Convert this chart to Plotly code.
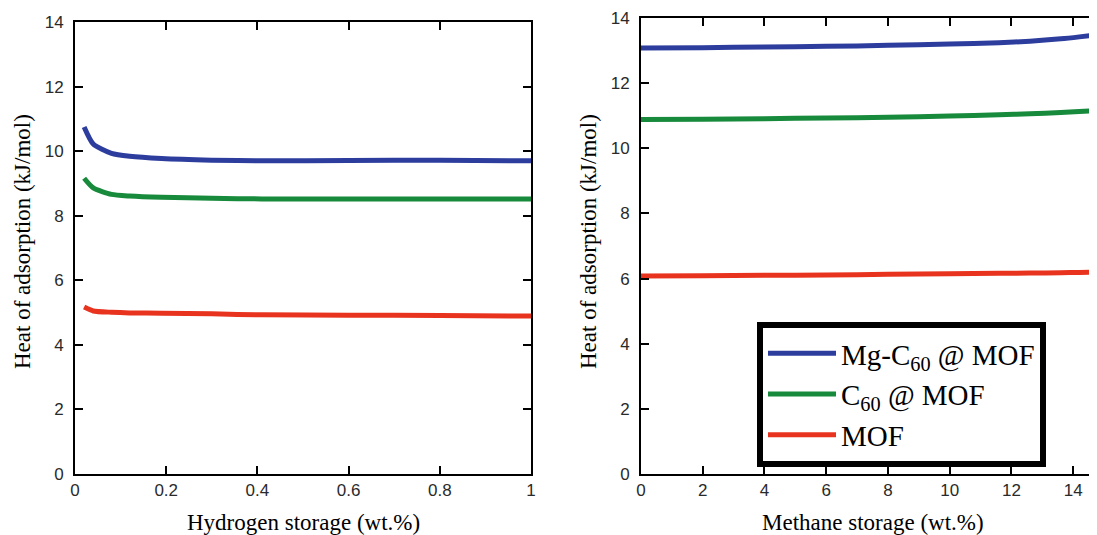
import plotly.graph_objects as go

# ---- data ----
h2_x = [0.02, 0.04, 0.08, 0.12, 0.19, 0.3, 0.41, 0.6, 0.8, 1.0]
h2_mg = [10.75, 10.22, 9.93, 9.84, 9.77, 9.72, 9.70, 9.71, 9.72, 9.70]
h2_c60 = [9.16, 8.86, 8.66, 8.61, 8.57, 8.54, 8.52, 8.52, 8.52, 8.52]
h2_mof = [5.17, 5.05, 5.01, 4.99, 4.98, 4.96, 4.93, 4.92, 4.91, 4.89]

ch4_x = [0, 2, 4, 6, 8, 10, 11.6, 12.6, 13.6, 14.2, 14.8]
ch4_mg = [13.08, 13.09, 13.11, 13.13, 13.16, 13.20, 13.24, 13.29, 13.36, 13.42, 13.49]
ch4_c60 = [10.88, 10.89, 10.91, 10.93, 10.95, 10.99, 11.03, 11.06, 11.10, 11.13, 11.16]
ch4_mof = [6.08, 6.09, 6.10, 6.11, 6.13, 6.15, 6.16, 6.17, 6.18, 6.19, 6.20]

names = ["Mg-C<sub>60</sub> @ MOF", "C<sub>60</sub> @ MOF", "MOF"]
colors = ["#2d3d9e", "#178a3c", "#e8341f"]

y_ticks = [0, 2, 4, 6, 8, 10, 12, 14]
h2_ticks = [0, 0.2, 0.4, 0.6, 0.8, 1]
ch4_ticks = [0, 2, 4, 6, 8, 10, 12, 14]

W, H = 1097, 535
OFF = 8  # default page body margin


def px(xp):
    return (xp - OFF) / W


def py(yp):
    return 1 - (yp - OFF) / H


fig = go.Figure()
for i, (ys, c) in enumerate(zip([h2_mg, h2_c60, h2_mof], colors)):
    fig.add_trace(go.Scatter(x=h2_x, y=ys, mode="lines", line=dict(color=c, width=5, shape="spline", smoothing=0.6),
                             xaxis="x", yaxis="y", showlegend=False, name=names[i]))
for i, (ys, c) in enumerate(zip([ch4_mg, ch4_c60, ch4_mof], colors)):
    fig.add_trace(go.Scatter(x=ch4_x, y=ys, mode="lines", line=dict(color=c, width=5, shape="spline", smoothing=0.6),
                             xaxis="x2", yaxis="y2", showlegend=True, name=names[i]))

tickfont = dict(family="Liberation Sans, Arial", size=17, color="#2a2a2a")
common = dict(showline=True, linecolor="black", linewidth=2, ticks="inside", ticklen=8,
              tickwidth=2, tickcolor="black", showgrid=False, zeroline=False, tickfont=tickfont,
              automargin=False)

title_font = dict(family="Liberation Serif, Times New Roman", size=23, color="black")

fig.update_layout(
    width=W, height=H,
    margin=dict(l=0, r=0, t=0, b=0, pad=0, autoexpand=False),
    paper_bgcolor="white", plot_bgcolor="white",
    xaxis=dict(domain=[px(75), px(531)], range=[0, 1], tickvals=h2_ticks,
               ticktext=["0", "0.2", "0.4", "0.6", "0.8", "1"], mirror="ticks", anchor="y", **common),
    yaxis=dict(domain=[py(474), py(22)], range=[0, 14], tickvals=y_ticks, mirror="ticks",
               anchor="x", ticklabelstandoff=6, **common),
    xaxis2=dict(domain=[px(641), px(1104)], range=[0, 15], tickvals=ch4_ticks, mirror="ticks",
                anchor="y2", **common),
    yaxis2=dict(domain=[py(474), py(18)], range=[0, 14], tickvals=y_ticks, mirror="ticks",
                anchor="x2", ticklabelstandoff=6, **common),
    legend=dict(x=px(757), y=py(322), xanchor="left", yanchor="top",
                bordercolor="black", borderwidth=6, bgcolor="white",
                font=dict(family="Liberation Serif, Times New Roman", size=29, color="black"),
                tracegroupgap=0, itemwidth=68),
    annotations=[
        dict(text="Hydrogen storage (wt.%)", x=px(303), y=py(522), xref="paper", yref="paper",
             xanchor="center", yanchor="middle", showarrow=False, font=title_font),
        dict(text="Methane storage (wt.%)", x=px(873), y=py(522), xref="paper", yref="paper",
             xanchor="center", yanchor="middle", showarrow=False, font=title_font),
        dict(text="Heat of adsorption (kJ/mol)", x=px(22), y=py(242), xref="paper", yref="paper",
             xanchor="center", yanchor="middle", showarrow=False, textangle=-90, font=title_font),
        dict(text="Heat of adsorption (kJ/mol)", x=px(588), y=py(242), xref="paper", yref="paper",
             xanchor="center", yanchor="middle", showarrow=False, textangle=-90, font=title_font),
    ],
)

fig.write_html("out.html")
